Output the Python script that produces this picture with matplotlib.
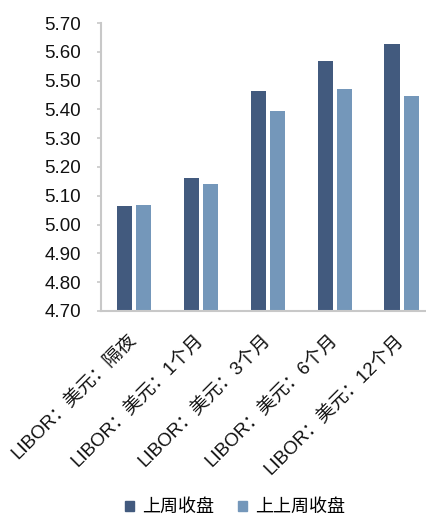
import matplotlib.pyplot as plt
import numpy as np
from matplotlib.patches import Patch

plt.rcParams["font.family"] = ["Liberation Sans", "Noto Sans CJK SC", "DejaVu Sans"]

CATEGORIES = [
    "LIBOR：美元：隔夜",
    "LIBOR：美元：1个月",
    "LIBOR：美元：3个月",
    "LIBOR：美元：6个月",
    "LIBOR：美元：12个月",
]
LAST_WEEK = [5.065, 5.161, 5.464, 5.567, 5.626]
WEEK_BEFORE = [5.067, 5.141, 5.394, 5.470, 5.447]
SERIES_NAMES = ["上周收盘", "上上周收盘"]
Y_TICKS = [4.70, 4.80, 4.90, 5.00, 5.10, 5.20, 5.30, 5.40, 5.50, 5.60, 5.70]

DARK = "#425A7E"
LIGHT = "#7497BA"
AXIS_GREY = "#C8C8C8"
BAR_WIDTH = 0.225
GAP = 0.06

fig = plt.figure(figsize=(4.27, 5.17), dpi=100)
ax = fig.add_axes([0.2365, 0.3985, 0.782, 0.557])

x = np.arange(len(CATEGORIES))
offset = (BAR_WIDTH + GAP) / 2
ax.bar(x - offset, LAST_WEEK, width=BAR_WIDTH, color=DARK, bottom=0)
ax.bar(x + offset, WEEK_BEFORE, width=BAR_WIDTH, color=LIGHT, bottom=0)

ax.set_ylim(4.70, 5.70)
ax.set_xlim(-0.5, len(CATEGORIES) - 0.5)
ax.set_yticks(Y_TICKS)
ax.set_yticklabels([f"{v:.2f}" for v in Y_TICKS], fontsize=13.5, color="#111111")
ax.set_xticks(x)
ax.set_xticklabels(CATEGORIES, rotation=45, ha="right", va="center",
                   rotation_mode="anchor", fontsize=13.5, color="#111111")

for side in ["top", "right"]:
    ax.spines[side].set_visible(False)
for side in ["left", "bottom"]:
    ax.spines[side].set_color(AXIS_GREY)
    ax.spines[side].set_linewidth(1.5)
ax.tick_params(axis="y", length=3, width=1.2, color=AXIS_GREY, pad=11.5)
ax.tick_params(axis="x", length=0, pad=19)

handles = [Patch(color=DARK), Patch(color=LIGHT)]
fig.legend(handles, SERIES_NAMES, loc="center", bbox_to_anchor=(0.55, 0.018),
           ncol=2, frameon=False, fontsize=13, handlelength=0.5, handleheight=0.5,
           handletextpad=0.45, columnspacing=1.3)

fig.savefig("out.png", dpi=100)
